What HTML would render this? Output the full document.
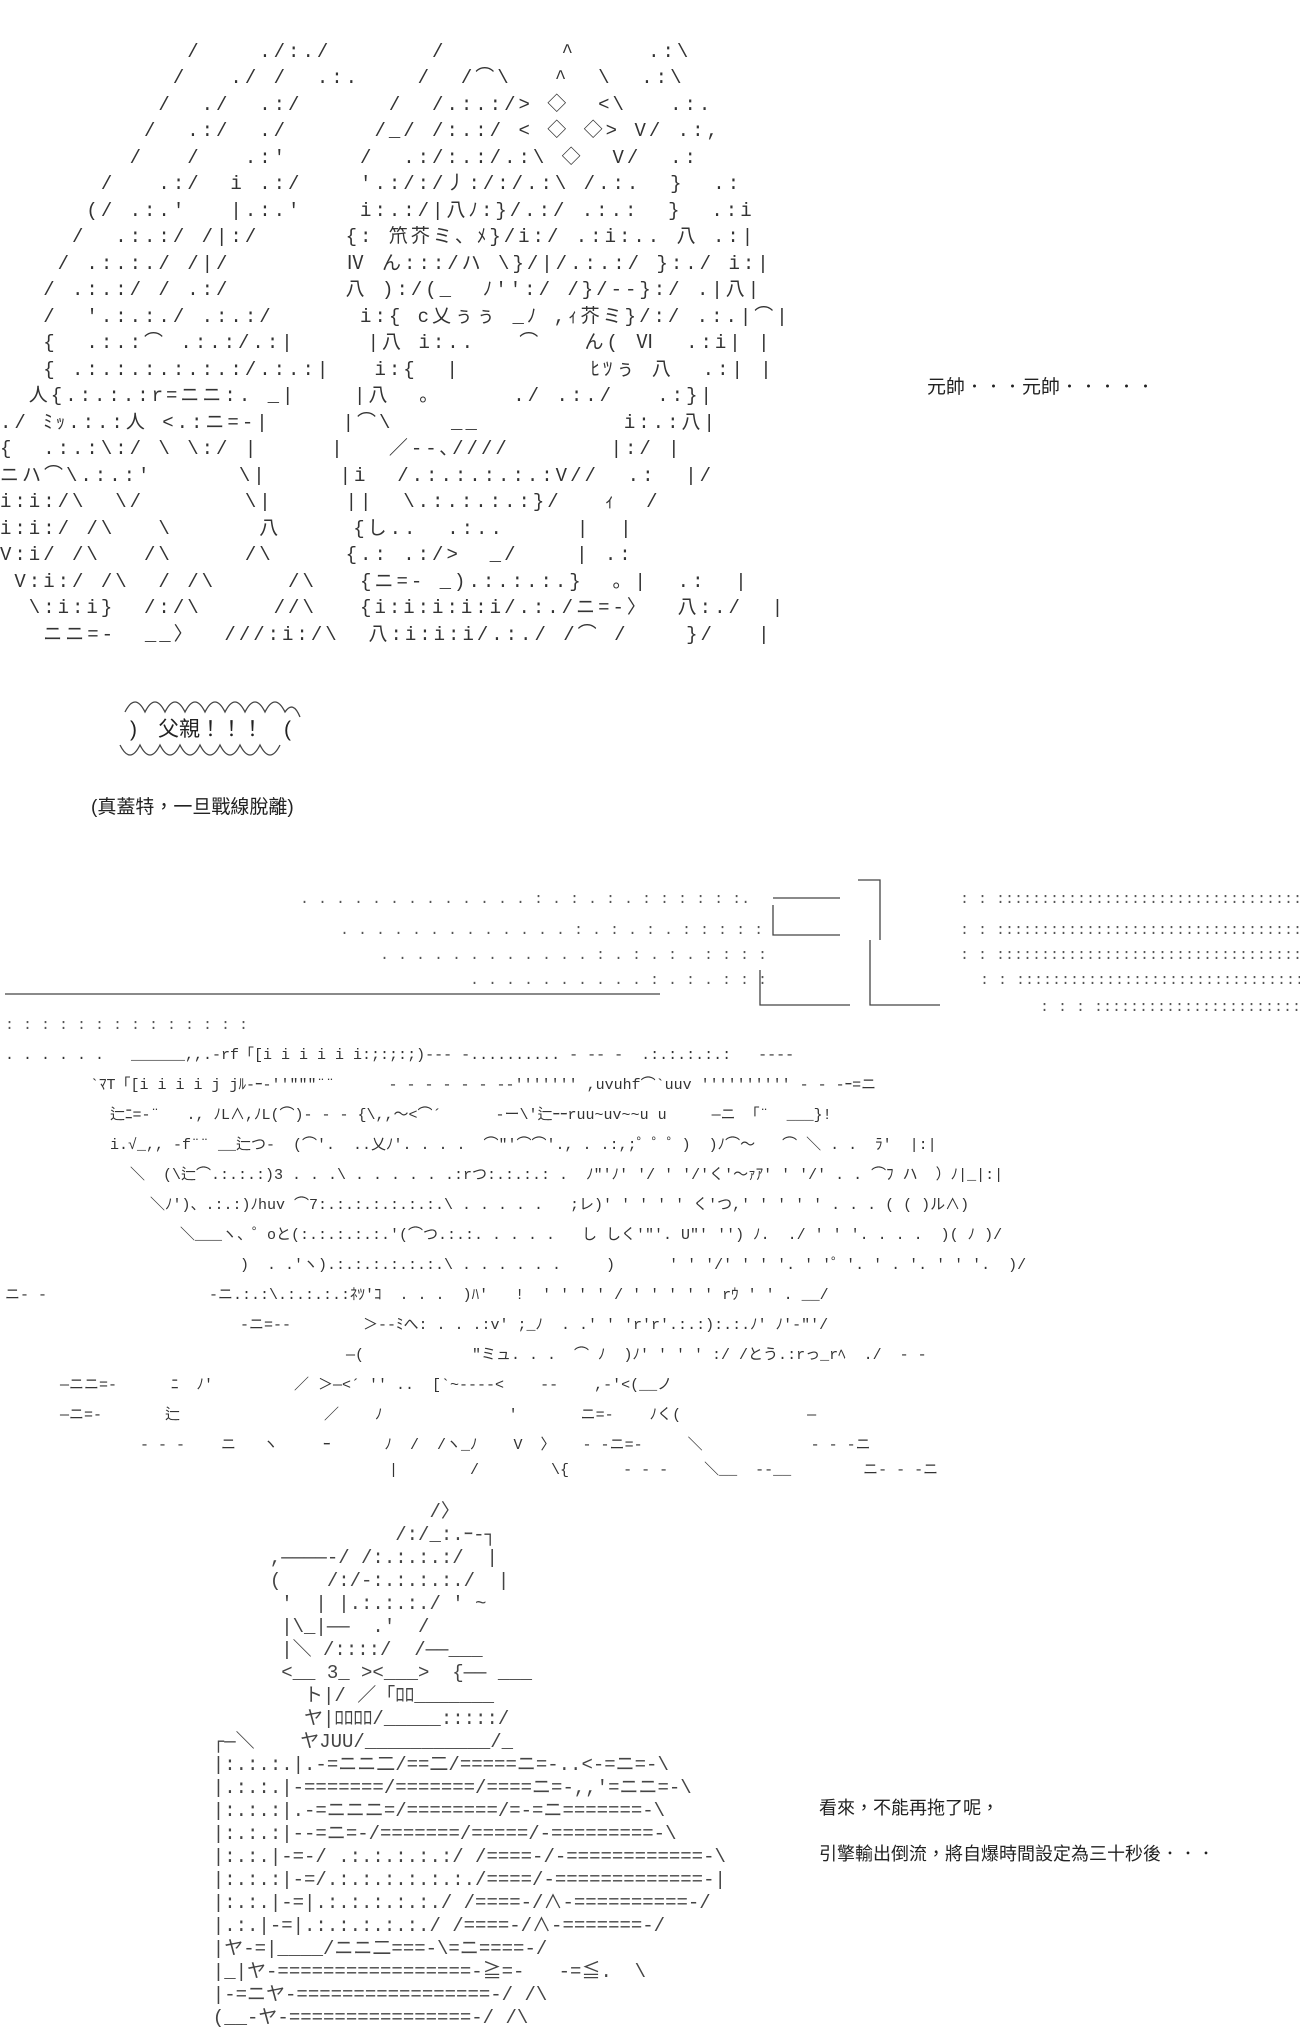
<!DOCTYPE html>
<html><head><meta charset="utf-8"><style>
html,body{margin:0;padding:0;background:#fff;}
body{width:1300px;height:2000px;position:relative;overflow:hidden;font-family:"Liberation Sans","Noto Sans CJK TC",sans-serif;color:#222;}
.t{position:absolute;font-size:19px;white-space:nowrap;}
.a{position:absolute;font-family:"Liberation Mono","Noto Sans CJK JP",monospace;color:#333;white-space:pre;}
.top{font-size:19px;line-height:26.5px;letter-spacing:3px;}
.mid{font-size:15px;line-height:31px;}
.bot{font-size:19px;line-height:23px;}
svg{position:absolute;left:0;top:0;}
</style></head><body>
<svg width="1300" height="2000" stroke="#444" stroke-width="1.3" fill="none">
<path d="M125 712 q10 -20 20 0 q10 -20 20 0 q10 -20 20 0 q10 -20 20 0 q10 -20 20 0 q10 -20 20 0 q10 -20 20 0 q10 -20 20 0 q8 -12 15 5"/>
<path d="M120 745 q10 20 20 0 q10 20 20 0 q10 20 20 0 q10 20 20 0 q10 20 20 0 q10 20 20 0 q10 20 20 0 q10 20 20 0"/>
<path d="M5 994 L660 994"/>
<path d="M773 898 L840 898 M773 905 L773 935 L840 935 M858 880 L880 880 L880 940"/>
<path d="M760 970 L760 1005 L850 1005 M870 940 L870 1005 L940 1005"/>
</svg>

<div class="t" style="left:927px;top:372px;">元帥．．．元帥．．．．．</div>
<div class="t" style="left:130px;top:713px;font-size:21px;">)　父親！！！　(</div>
<div class="t" style="left:91px;top:792px;">(真蓋特，一旦戰線脫離)</div>
<div class="t" style="left:819px;top:1794px;font-size:18px;">看來，不能再拖了呢，</div>
<div class="t" style="left:819px;top:1840px;font-size:18px;">引擎輸出倒流，將自爆時間設定為三十秒後．．．</div>

<div class="a top" style="left:0px;top:12px;">
             /    ./:./       /        ^     .:\
            /   ./ /  .:.    /  /⌒\   ^  \  .:\
           /  ./  .:/      /  /.:.:/> ◇  &lt;\   .:.
          /  .:/  ./      /_/ /:.:/ &lt; ◇ ◇> V/ .:,
         /   /   .:'     /  .:/:.:/.:\ ◇  V/  .:
       /   .:/  i .:/    '.:/:/丿:/:/.:\ /.:.  }  .:
      (/ .:.'   |.:.'    i:.:/|八ﾉ:}/.:/ .:.:  }  .:i
     /  .:.:/ /|:/      {: 笊芥ミ、ﾒ}/i:/ .:i:.. 八 .:|
    / .:.:./ /|/        Ⅳ ん:::/ハ \}/|/.:.:/ }:./ i:|
   / .:.:/ / .:/        八 ):/(_  ﾉ'':/ /}/-‐}:/ .|八|
   /  '.:.:./ .:.:/      i:{ c乂ぅぅ _ﾉ ,ｨ芥ミ}/:/ .:.|⌒|
   {  .:.:⌒ .:.:/.:|     |八 i:..   ⌒   ん( Ⅵ  .:i| |
   { .:.:.:.:.:.:/.:.:|   i:{  |         ﾋﾂぅ 八  .:| |
  人{.:.:.:r=ニニ:. _|    |八  。     ./ .:./   .:}|
./ ﾐｯ.:.:人 &lt;.:ニ=-|     |⌒\    __          i:.:八|
{  .:.:\:/ \ \:/ |     |   ／--､////       |:/ |
ニハ⌒\.:.:'      \|     |i  /.:.:.:.:.:V//  .:  |/
i:i:/\  \/       \|     ||  \.:.:.:.:}/   ｨ  /
i:i:/ /\   \      八     {し..  .:..     |  |
V:i/ /\   /\     /\     {.: .:/>  _/    | .:
 V:i:/ /\  / /\     /\   {ニ=- _).:.:.:.}  。|  .:  |
  \:i:i}  /:/\     //\   {i:i:i:i:i/.:./ニ=-〉  八:./  |
   ニニ=-  __〉  ///:i:/\  八:i:i:i/.:./ /⌒ /    }/   |
</div>

<div class="a mid" style="left:300px;top:884px;color:#555;">. . . . . . . . . . . . . : . : . : . : : : : : :.</div>
<div class="a mid" style="left:340px;top:915px;color:#555;">. . . . . . . . . . . . . : . : . : . : : : : :</div>
<div class="a mid" style="left:380px;top:940px;color:#555;">. . . . . . . . . . . . : . : . : . : : : :</div>
<div class="a mid" style="left:470px;top:965px;color:#555;">. . . . . . . . . . : . : . : : :</div>
<div class="a mid" style="left:960px;top:884px;color:#555;">: : :::::::::::::::::::::::::::::::::::</div>
<div class="a mid" style="left:960px;top:915px;color:#555;">: : :::::::::::::::::::::::::::::::::::::</div>
<div class="a mid" style="left:960px;top:940px;color:#555;">: : :::::::::::::::::::::::::::::::::::::</div>
<div class="a mid" style="left:980px;top:965px;color:#555;">: : :::::::::::::::::::::::::::::::::::</div>
<div class="a mid" style="left:1040px;top:992px;color:#555;">: : : :::::::::::::::::::::::::::</div>
<div class="a mid" style="left:5px;top:1010px;color:#555;">: : : : : : : : : : : : : :</div>
<div class="a mid" style="left:5px;top:1040px;">. . . . . .   ______,,.-rf「[i i i i i i:;:;:;)--- -.......... - -- -  .:.:.:.:.:   ----</div>
<div class="a mid" style="left:90px;top:1070px;">`ﾏT「[i i i i j jﾙ‐ｰ‐''"""¨¨      - - - - - - --''''''' ,uvuhf⌒`uuv '''''''''' - - -ｰ=ニ</div>
<div class="a mid" style="left:110px;top:1100px;">辷ﾆ=-¨   ., ﾉL∧,ﾉL(⌒)- - - {\,,～&lt;⌒´      -ー\'辷ｰｰruu~uv~~u u     ―ニ 「¨  ___}!</div>
<div class="a mid" style="left:110px;top:1130px;">i.√_,, -f¨¨ __辷つ-  (⌒'.  ..乂ﾉ'. . . .  ⌒"'⌒⌒'., . .:,;゜゜゜)  )ﾉ⌒～   ⌒ ＼ . .  ﾗ'  |:|</div>
<div class="a mid" style="left:130px;top:1160px;">＼  (\辷⌒.:.:.:)3 . . .\ . . . . . .:rつ:.:.:.: .  ﾉ"'ﾉ' '/ ' '/'く'～ｧｱ' ' '/' . . ⌒ﾌ ハ  ）ﾉ|_|:|</div>
<div class="a mid" style="left:150px;top:1190px;">＼ﾉ')、.:.:)ﾉhuv ⌒7:.:.:.:.:.:.:.\ . . . . .   ;レ)' ' ' ' ' く'つ,' ' ' ' ' . . . ( ( )ル∧)</div>
<div class="a mid" style="left:180px;top:1220px;">＼___ヽ、゜oと(:.:.:.:.:.'(⌒つ.:.:. . . . .   し しく'"'. U"' '') ﾉ.  ./ ' ' '. . . .  )( ﾉ )/</div>
<div class="a mid" style="left:240px;top:1250px;">)  . .'ヽ).:.:.:.:.:.:.\ . . . . . .     )      ' ' '/' ' ' '. ' '゜'. ' . '. ' ' '.  )/</div>
<div class="a mid" style="left:5px;top:1280px;">ニ- -                  -ニ.:.:\.:.:.:.:ﾈﾂ'ｺ  . . .  )ﾊ'   !  ' ' ' ' / ' ' ' ' ' rｳ ' ' . __/</div>
<div class="a mid" style="left:240px;top:1310px;">-ニ=--        ＞--ﾐへ: . . .:v' ;_ﾉ  . .' ' 'r'r'.:.:):.:.ﾉ' ﾉ'-"'/</div>
<div class="a mid" style="left:310px;top:1340px;">    ―(            "ミュ. . .  ⌒ ﾉ  )ﾉ' ' ' ' :/ /とう.:rっ_rﾍ  ./  - -</div>
<div class="a mid" style="left:60px;top:1370px;">―ニニ=-      ﾆ  ﾉ'         ／ ＞―&lt;´ '' ..  [`~---‐&lt;    --    ,-'&lt;(__ノ</div>
<div class="a mid" style="left:60px;top:1400px;">―ニ=-       辷                ／    ﾉ              '       ニ=-    ﾉく(              ―</div>
<div class="a mid" style="left:140px;top:1430px;">- - -    ニ   ヽ     ｰ      ﾉ  /  /ヽ_ﾉ    V  〉   - -ニ=-     ＼            - - -ニ</div>
<div class="a mid" style="left:200px;top:1455px;">                     |        /        \{      - - -    ＼__  --__        ニ- - -ニ</div>

<div class="a bot" style="left:190px;top:1478px;color:#444;">
                     /〉
                  /:/_:.ｰ‐┐
       ,――――‐/ /:.:.:.:/  |
       (    /:/-:.:.:.:./  |
        '  | |.:.:.:./ ' ~
        |\_|――  .'  /
        |＼ /::::/  /――___
        &lt;__ 3_ >&lt;___>  {―― ___
          ト|/ ／「ﾛﾛ_______
          ヤ|ﾛﾛﾛﾛ/_____:::::/
  ┌―＼    ヤJUU/___________/_
  |:.:.:.|.-=ニニ二/==二/=====ニ=-..&lt;-=ニ=-\
  |.:.:.|-=======/=======/====ニ=-,,'=ニニ=-\
  |:.:.:|.-=ニニニ=/========/=-=ニ=======-\
  |:.:.:|--=ニ=-/=======/=====/-=========-\
  |:.:.|-=-/ .:.:.:.:.:/ /====-/-============-\
  |:.:.:|-=/.:.:.:.:.:.:./====/-=============-|
  |:.:.|-=|.:.:.:.:.:./ /====-/∧-==========-/
  |.:.|-=|.:.:.:.:.:./ /====-/∧-=======-/
  |ヤ-=|____/ニニ二===-\=ニ====-/
  |_|ヤ-=================-≧=-   -=≦.  \
  |-=ニヤ-=================-/ /\
  (__-ヤ-================-/ /\
</div>
</body></html>
